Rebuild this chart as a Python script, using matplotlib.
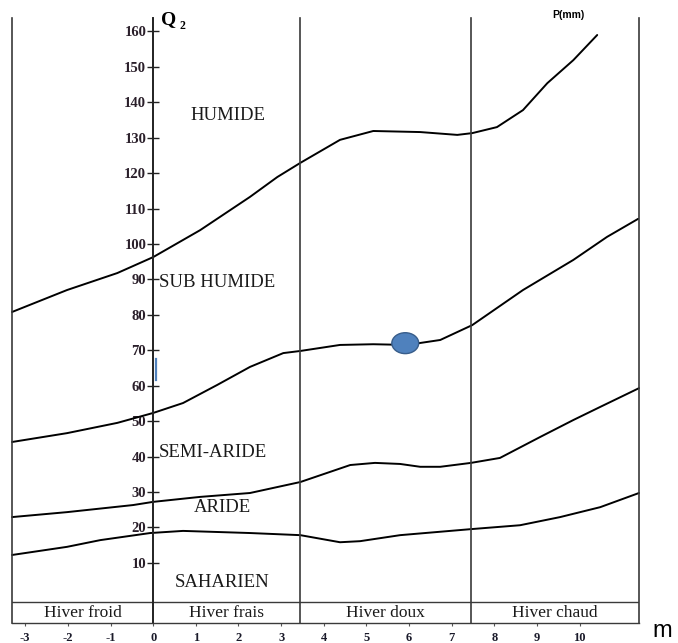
"""
Climagramme d'Emberger : Q2 en fonction de m (température minimale)
"""

import matplotlib.pyplot as plt
from matplotlib.patches import Ellipse

# limites des étages bioclimatiques (m, Q2)
m_humide = [-3.31, -2.02, -0.84, 0.0, 1.10, 2.27, 2.91, 3.45, 4.38, 5.16,
            6.26, 7.13, 7.48, 8.06, 8.67, 9.24, 9.85, 10.41]
q_humide = [80.8, 87.0, 91.8, 96.3, 103.9, 113.3, 118.9, 122.9, 129.4, 131.9,
            131.6, 130.8, 131.3, 133.0, 137.8, 145.4, 151.9, 159.0]

m_subhumide = [-3.31, -2.02, -0.84, 0.0, 0.70, 1.50, 2.27, 3.05, 3.45, 4.38,
               5.16, 5.95, 6.73, 7.48, 8.67, 9.85, 10.64, 11.37]
q_subhumide = [44.1, 46.6, 49.5, 52.3, 55.1, 60.2, 65.3, 69.2, 69.8, 71.5,
               71.7, 71.5, 72.9, 77.1, 87.0, 95.5, 102.0, 107.1]

m_semiaride = [-3.31, -2.02, -0.47, 0.0, 1.10, 2.27, 3.45, 4.62, 5.20, 5.79,
               6.26, 6.73, 7.45, 8.13, 9.07, 9.85, 10.48, 11.39]
q_semiaride = [22.9, 24.3, 26.3, 27.2, 28.6, 29.7, 32.8, 37.6, 38.2, 37.9,
               37.1, 37.1, 38.2, 39.6, 45.5, 50.3, 54.0, 59.3]

m_aride = [-3.31, -2.02, -1.24, -0.07, 0.70, 2.27, 3.45, 4.38, 4.85, 5.79,
           7.45, 8.60, 9.54, 10.48, 11.39]
q_aride = [12.2, 14.5, 16.4, 18.4, 19.0, 18.4, 17.8, 15.8, 16.1, 17.8,
           19.5, 20.6, 22.9, 25.7, 29.7]

# station
station_m = 5.91
station_q = 72.0

# variantes thermiques
hiver_bornes = [-3.31, 0.0, 3.45, 7.45, 11.39]
hiver_noms = ['Hiver froid', 'Hiver frais', 'Hiver doux', 'Hiver chaud']

q_ticks = list(range(10, 161, 10))
m_ticks = list(range(-3, 11))

etages = ['HUMIDE', 'SUB HUMIDE', 'SEMI-ARIDE', 'ARIDE', 'SAHARIEN']

W, H = 678, 643
fig = plt.figure(figsize=(W / 100, H / 100), dpi=100, facecolor='white')
ax = fig.add_axes([12 / W, 20 / H, 627 / W, 605 / H])
ax.set_xlim(hiver_bornes[0], hiver_bornes[-1])
ax.set_ylim(-7.0, 163.8)

serif = 'Liberation Serif'
trait = '#3a3a3a'

# courbes limites
for mx, qy in [(m_humide, q_humide), (m_subhumide, q_subhumide),
               (m_semiaride, q_semiaride), (m_aride, q_aride)]:
    ax.plot(mx, qy, color='black', lw=1.4, solid_capstyle='round',
            solid_joinstyle='round', clip_on=False)

# séparations verticales
for b in hiver_bornes:
    ax.axvline(b, color=trait, lw=1.2, clip_on=False)

# bandeau du bas
y_bande = -1.1
ax.axhline(y_bande, color=trait, lw=1.0)
for i, nom in enumerate(hiver_noms):
    xc = (hiver_bornes[i] + hiver_bornes[i + 1]) / 2
    ax.text(xc, (y_bande - 7.0) / 2 - 0.2, nom, ha='center', va='center',
            fontsize=12.5, family=serif, color='#1a1a1a')

# axe Q2 sur m = 0
ax.spines['left'].set_position(('data', 0))
ax.spines['left'].set_color('#222222')
ax.spines['left'].set_linewidth(1.3)
ax.spines['top'].set_visible(False)
ax.spines['right'].set_visible(False)
ax.spines['bottom'].set_color(trait)
ax.spines['bottom'].set_linewidth(1.0)

ax.set_yticks(q_ticks)
ax.set_yticklabels([str(v) for v in q_ticks], family=serif,
                   fontweight='bold', fontsize=10.5, color='#2a1f2a')
ax.tick_params(axis='y', direction='inout', length=8, width=1.0,
               pad=1, color='#222222')

ax.set_xticks(m_ticks)
ax.set_xticklabels([str(v) for v in m_ticks], family=serif,
                   fontweight='bold', fontsize=9, color='#1a1a2a')
ax.tick_params(axis='x', direction='out', length=2, width=0.8,
               pad=4.5, color='#555555')

# petit repère bleu sur l'axe
ax.plot([0.06, 0.06], [61.5, 67.5], color='#4F81BD', lw=1.6)

# noms des étages
style = dict(family=serif, fontsize=13.5, color='#1a1a1a', va='center')
ax.text(1.76, 136.4, etages[0], ha='center', **style)
ax.text(0.14, 89.0, etages[1], ha='left', **style)
ax.text(0.14, 41.0, etages[2], ha='left', **style)
ax.text(1.62, 25.5, etages[3], ha='center', **style)
ax.text(1.62, 4.3, etages[4], ha='center', **style)

# station
ax.add_patch(Ellipse((station_m, station_q), width=0.63, height=5.9,
                     facecolor='#4F81BD', edgecolor='#385D8A', lw=1.0, zorder=5))

# titres des axes
fig.text(169 / W, 1 - 20 / H, 'Q', family=serif, fontweight='bold',
         fontsize=14, ha='center', va='center')
fig.text(182 / W, 1 - 26 / H, '2', family=serif, fontweight='bold',
         fontsize=8.5, ha='center', va='center')
fig.text(568 / W, 1 - 15 / H, 'P(mm)', family='Liberation Sans',
         fontweight='bold', fontsize=7.5, ha='center', va='center')
fig.text(662 / W, 1 - 631 / H, 'm', family='Liberation Sans',
         fontsize=17, ha='center', va='center')

fig.savefig('out.png', dpi=100, facecolor='white')
